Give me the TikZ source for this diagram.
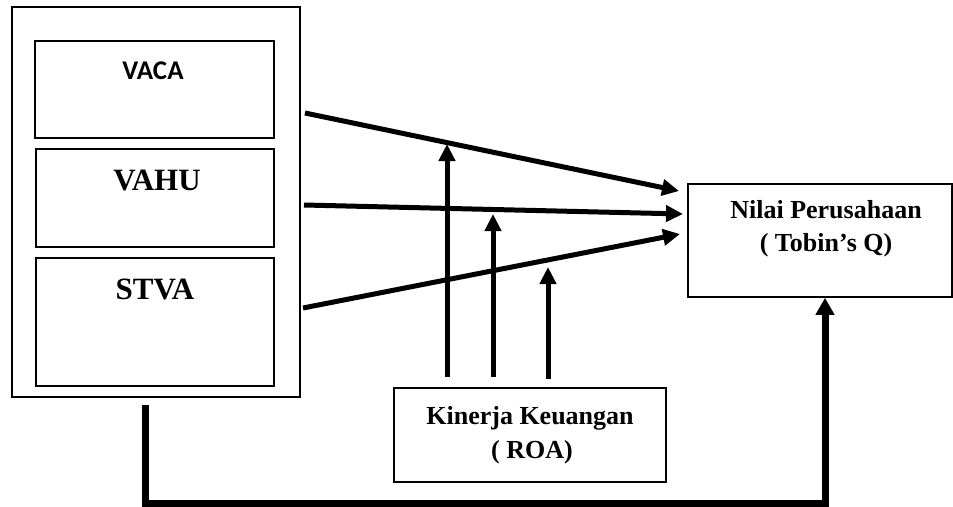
\documentclass[tikz,border=0pt]{standalone}
\usepackage{fontspec}
\setmainfont{Liberation Serif}
\newfontfamily\calib{Carlito}
\usetikzlibrary{arrows.meta}
\begin{document}
\begin{tikzpicture}[x=1pt,y=-1pt,
  box/.style={draw, line width=1.8pt, inner sep=0pt, anchor=north west},
  lbl/.style={anchor=base, inner sep=0pt, font=\fontsize{26}{30}\selectfont\bfseries},
  big/.style={anchor=base, inner sep=0pt, font=\fontsize{31}{36}\selectfont\bfseries},
  arr/.style={line width=5pt, -{Triangle[length=17pt,width=16pt]}},
  arrb/.style={line width=7pt, -{Triangle[length=17pt,width=18pt]}}
]
\useasboundingbox (0,0) rectangle (953,506);
% boxes
\node[box, line width=1.5pt, minimum width=288pt, minimum height=390pt] (outer) at (11,6) {};
\node[box, minimum width=239pt, minimum height=97pt] (vaca) at (34,40) {};
\node[box, minimum width=238pt, minimum height=98pt] (vahu) at (35,148) {};
\node[box, minimum width=238pt, minimum height=128pt] (stva) at (35,257) {};
\node[box, minimum width=264pt, minimum height=113pt] (nilai) at (687,183) {};
\node[box, minimum width=272pt, minimum height=94pt] (kin) at (393,387) {};
% texts
\node[anchor=base, inner sep=0pt, font=\calib\fontsize{27}{32}\selectfont\bfseries] (tvaca) at (153,79) {VACA};
\node[big] (tvahu) at (157,190) {VAHU};
\node[big] (tstva) at (155,299) {STVA};
\node[lbl] (tnil1) at (826,218) {Nilai Perusahaan};
\node[lbl] (tnil2) at (826,251) {( Tobin’s Q)};
\node[lbl] (tkin1) at (530,424) {Kinerja Keuangan};
\node[lbl] (tkin2) at (532,458) {( ROA)};
% connector ends
\coordinate (a1s) at (305,113);
\coordinate (a1e) at (679,191);
\coordinate (a2s) at (304,205);
\coordinate (a2e) at (683,214);
\coordinate (a3s) at (303,308);
\coordinate (a3e) at (680,234);
\coordinate (m1s) at (447,377);
\coordinate (m1e) at (447,144);
\coordinate (m2s) at (493,377);
\coordinate (m2e) at (493,214);
\coordinate (m3s) at (548,379);
\coordinate (m3e) at (548,267);
\coordinate (b0) at (145,405);
\coordinate (b1) at (825,503);
% arrows
\draw[arr] (a1s) -- (a1e);
\draw[arr] (a2s) -- (a2e);
\draw[arr] (a3s) -- (a3e);
\draw[arr] (m1s) -- (m1e);
\draw[arr] (m2s) -- (m2e);
\draw[arr] (m3s) -- (m3e);
\draw[arrb] (b0) |- (b1) -- (b1 |- nilai.south);
\end{tikzpicture}
\end{document}
